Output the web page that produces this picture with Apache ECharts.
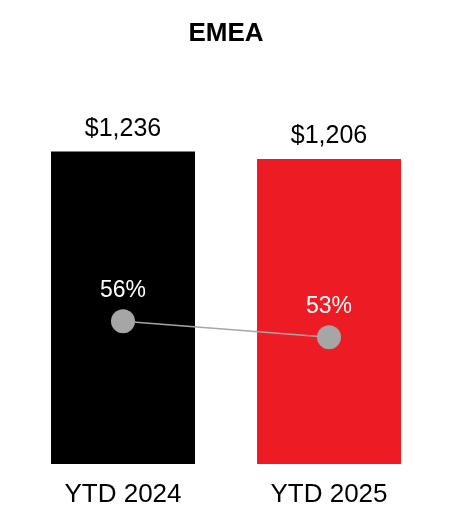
<!DOCTYPE html>
<html>
<head>
<meta charset="utf-8">
<script src="https://cdn.jsdelivr.net/npm/echarts@6/dist/echarts.min.js"></script>
<style>
html,body{margin:0;padding:0;background:#fff;}
#chart{width:452px;height:532px;}
</style>
</head>
<body>
<div id="chart"></div>
<script>
const title = 'EMEA';
const categories = ['YTD 2024', 'YTD 2025'];
const revenue = [1236, 1206];
const margin = [56, 53];
const barColors = ['#000000', '#ED1C24'];

const FONT = '"Liberation Sans", Arial, sans-serif';
const chart = echarts.init(document.getElementById('chart'), null, {renderer: 'canvas'});
chart.setOption({
  animation: false,
  backgroundColor: '#ffffff',
  title: {
    text: title, left: 'center', top: 16,
    textStyle: {fontFamily: FONT, fontSize: 26, fontWeight: 'bold', color: '#000'}
  },
  grid: {left: 20, right: 20, top: 110, bottom: 68, containLabel: false},
  xAxis: {
    type: 'category', data: categories,
    axisLine: {show: false}, axisTick: {show: false},
    axisLabel: {fontFamily: FONT, fontSize: 26, color: '#000', margin: 18}
  },
  yAxis: [
    {type: 'value', min: 0, max: 1400, show: false, splitLine: {show: false}},
    {type: 'value', min: 29, max: 96, show: false, splitLine: {show: false}}
  ],
  series: [
    {
      type: 'bar', yAxisIndex: 0, barWidth: 144,
      data: revenue.map((v, i) => ({value: v, itemStyle: {color: barColors[i]}})),
      label: {
        show: true, position: 'top', distance: 10,
        fontFamily: FONT, fontSize: 25, color: '#000',
        formatter: p => '$' + p.value.toLocaleString('en-US')
      }
    },
    {
      type: 'line', yAxisIndex: 1, data: margin,
      symbol: 'circle', symbolSize: 24,
      lineStyle: {color: '#a6a6a6', width: 1.5},
      itemStyle: {color: '#a6a6a6'},
      label: {
        show: true, position: 'top', distance: 7,
        fontFamily: FONT, fontSize: 23, color: '#ffffff',
        formatter: p => p.value + '%'
      },
      z: 5
    }
  ]
});
</script>
</body>
</html>
